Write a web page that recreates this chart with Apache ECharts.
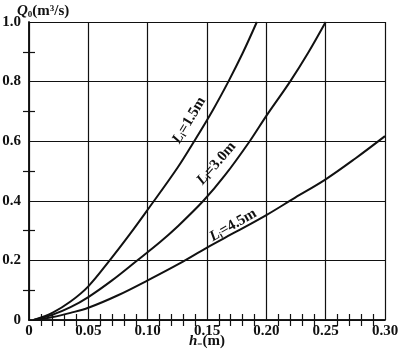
<!DOCTYPE html>
<html>
<head>
<meta charset="utf-8">
<script src="https://cdn.jsdelivr.net/npm/echarts@6/dist/echarts.min.js"></script>
<style>
  html, body { margin: 0; padding: 0; background: #fff; }
  #chart { width: 401px; height: 352px; }
</style>
</head>
<body>
<div id="chart"></div>
<script>
// h (m) vs Q0 (m3/s)
var curve15 = [[0.004, 0], [0.02, 0.025], [0.035, 0.062], [0.05, 0.113], [0.068, 0.2], [0.085, 0.288], [0.1, 0.37], [0.125, 0.51], [0.14, 0.605], [0.155, 0.705], [0.168, 0.8], [0.18, 0.895], [0.192, 1.0]];
var curve30 = [[0.004, 0], [0.02, 0.018], [0.035, 0.043], [0.05, 0.077], [0.07, 0.133], [0.0906, 0.198], [0.11, 0.26], [0.125, 0.313], [0.147, 0.4], [0.165, 0.485], [0.186, 0.6], [0.2, 0.685], [0.22, 0.8], [0.235, 0.895], [0.25, 1.0]];
var curve45 = [[0.004, 0], [0.02, 0.01], [0.035, 0.024], [0.05, 0.041], [0.075, 0.083], [0.1, 0.133], [0.127, 0.19], [0.15, 0.243], [0.175, 0.297], [0.2, 0.352], [0.224, 0.41], [0.25, 0.472], [0.275, 0.542], [0.3, 0.617]];
var curveNames = ['1.5m', '3.0m', '4.5m'];
var labelPos = [[0.135, 0.67], [0.158, 0.525], [0.172, 0.318]];
var labelRot = [59, 49, 30];
var xTicks = ['0', '0.05', '0.10', '0.15', '0.20', '0.25', '0.30'];
var yTicks = ['0', '0.2', '0.4', '0.6', '0.8', '1.0'];

var chart = echarts.init(document.getElementById('chart'));
var font = 'Liberation Serif';
var rich = {
    it: { fontFamily: font, fontStyle: 'italic', fontWeight: 'bold', fontSize: 15, color: '#111' },
    sub: { fontFamily: font, fontWeight: 'bold', fontSize: 9, color: '#111', verticalAlign: 'bottom', padding: [6, 0, 0, 0] },
    sup: { fontFamily: font, fontWeight: 'bold', fontSize: 9, color: '#111', verticalAlign: 'top', padding: [0, 0, 6, 0] },
    n: { fontFamily: font, fontWeight: 'bold', fontSize: 15, color: '#111' }
};

function makeX(pos, showLabel) {
    return {
        type: 'value', position: pos, min: 0, max: 0.3, interval: 0.05,
        axisLine: { show: true, lineStyle: { color: '#111', width: 1.5 } },
        axisTick: { show: false },
        minorTick: { show: true, splitNumber: 5, length: 6, lineStyle: { color: '#111', width: 1.2 } },
        splitLine: { show: showLabel, lineStyle: { color: '#111', width: 1.2 } },
        axisLabel: {
            show: showLabel, color: '#111', fontFamily: font, fontWeight: 'bold', fontSize: 15, margin: 4,
            formatter: function (v) { return xTicks[Math.round(v / 0.05)]; }
        },
        name: showLabel ? '{it|h}{sub|=}{n|(m)}' : '',
        nameLocation: 'middle', nameGap: 14, nameMoveOverlap: false,
        nameTextStyle: { rich: rich }
    };
}
function makeY(pos, showLabel) {
    return {
        type: 'value', position: pos, min: 0, max: 1, interval: 0.2,
        axisLine: { show: true, lineStyle: { color: '#111', width: 1.5 } },
        axisTick: { show: false },
        minorTick: { show: true, splitNumber: 2, length: 6, lineStyle: { color: '#111', width: 1.2 } },
        splitLine: { show: showLabel, lineStyle: { color: '#111', width: 1.2 } },
        axisLabel: {
            show: showLabel, color: '#111', fontFamily: font, fontWeight: 'bold', fontSize: 15, margin: 8,
            formatter: function (v) { return yTicks[Math.round(v / 0.2)]; }
        },
        name: showLabel ? '{it|Q}{sub|0}{n|(m}{sup|3}{n|/s)}' : '',
        nameLocation: 'end', nameGap: 3, nameMoveOverlap: false,
        nameTextStyle: { rich: rich, align: 'left', padding: [0, 0, 0, -12] }
    };
}

var data = [curve15, curve30, curve45];
var series = data.map(function (d, i) {
    return {
        type: 'line', xAxisIndex: 0, yAxisIndex: 0, data: d,
        smooth: 0.35,
        showSymbol: false, symbol: 'none',
        lineStyle: { color: '#111', width: 2 },
        markPoint: {
            symbol: 'circle', symbolSize: 1,
            itemStyle: { color: 'rgba(0,0,0,0)' },
            data: [{
                coord: labelPos[i],
                label: {
                    show: true, position: 'inside', rotate: labelRot[i],
                    formatter: '{it|L}{sub|i}{n|=' + curveNames[i] + '}',
                    rich: rich
                }
            }]
        }
    };
});

var option = {
    animation: false,
    backgroundColor: '#fff',
    grid: { left: 29, right: 16, top: 22, bottom: 32, containLabel: false, outerBoundsMode: 'none' },
    xAxis: [makeX('bottom', true), makeX('top', false)],
    yAxis: [makeY('left', true), makeY('right', false)],
    series: series
};

if (option && typeof option === "object") {
    chart.setOption(option, true);
}
</script>
</body>
</html>
